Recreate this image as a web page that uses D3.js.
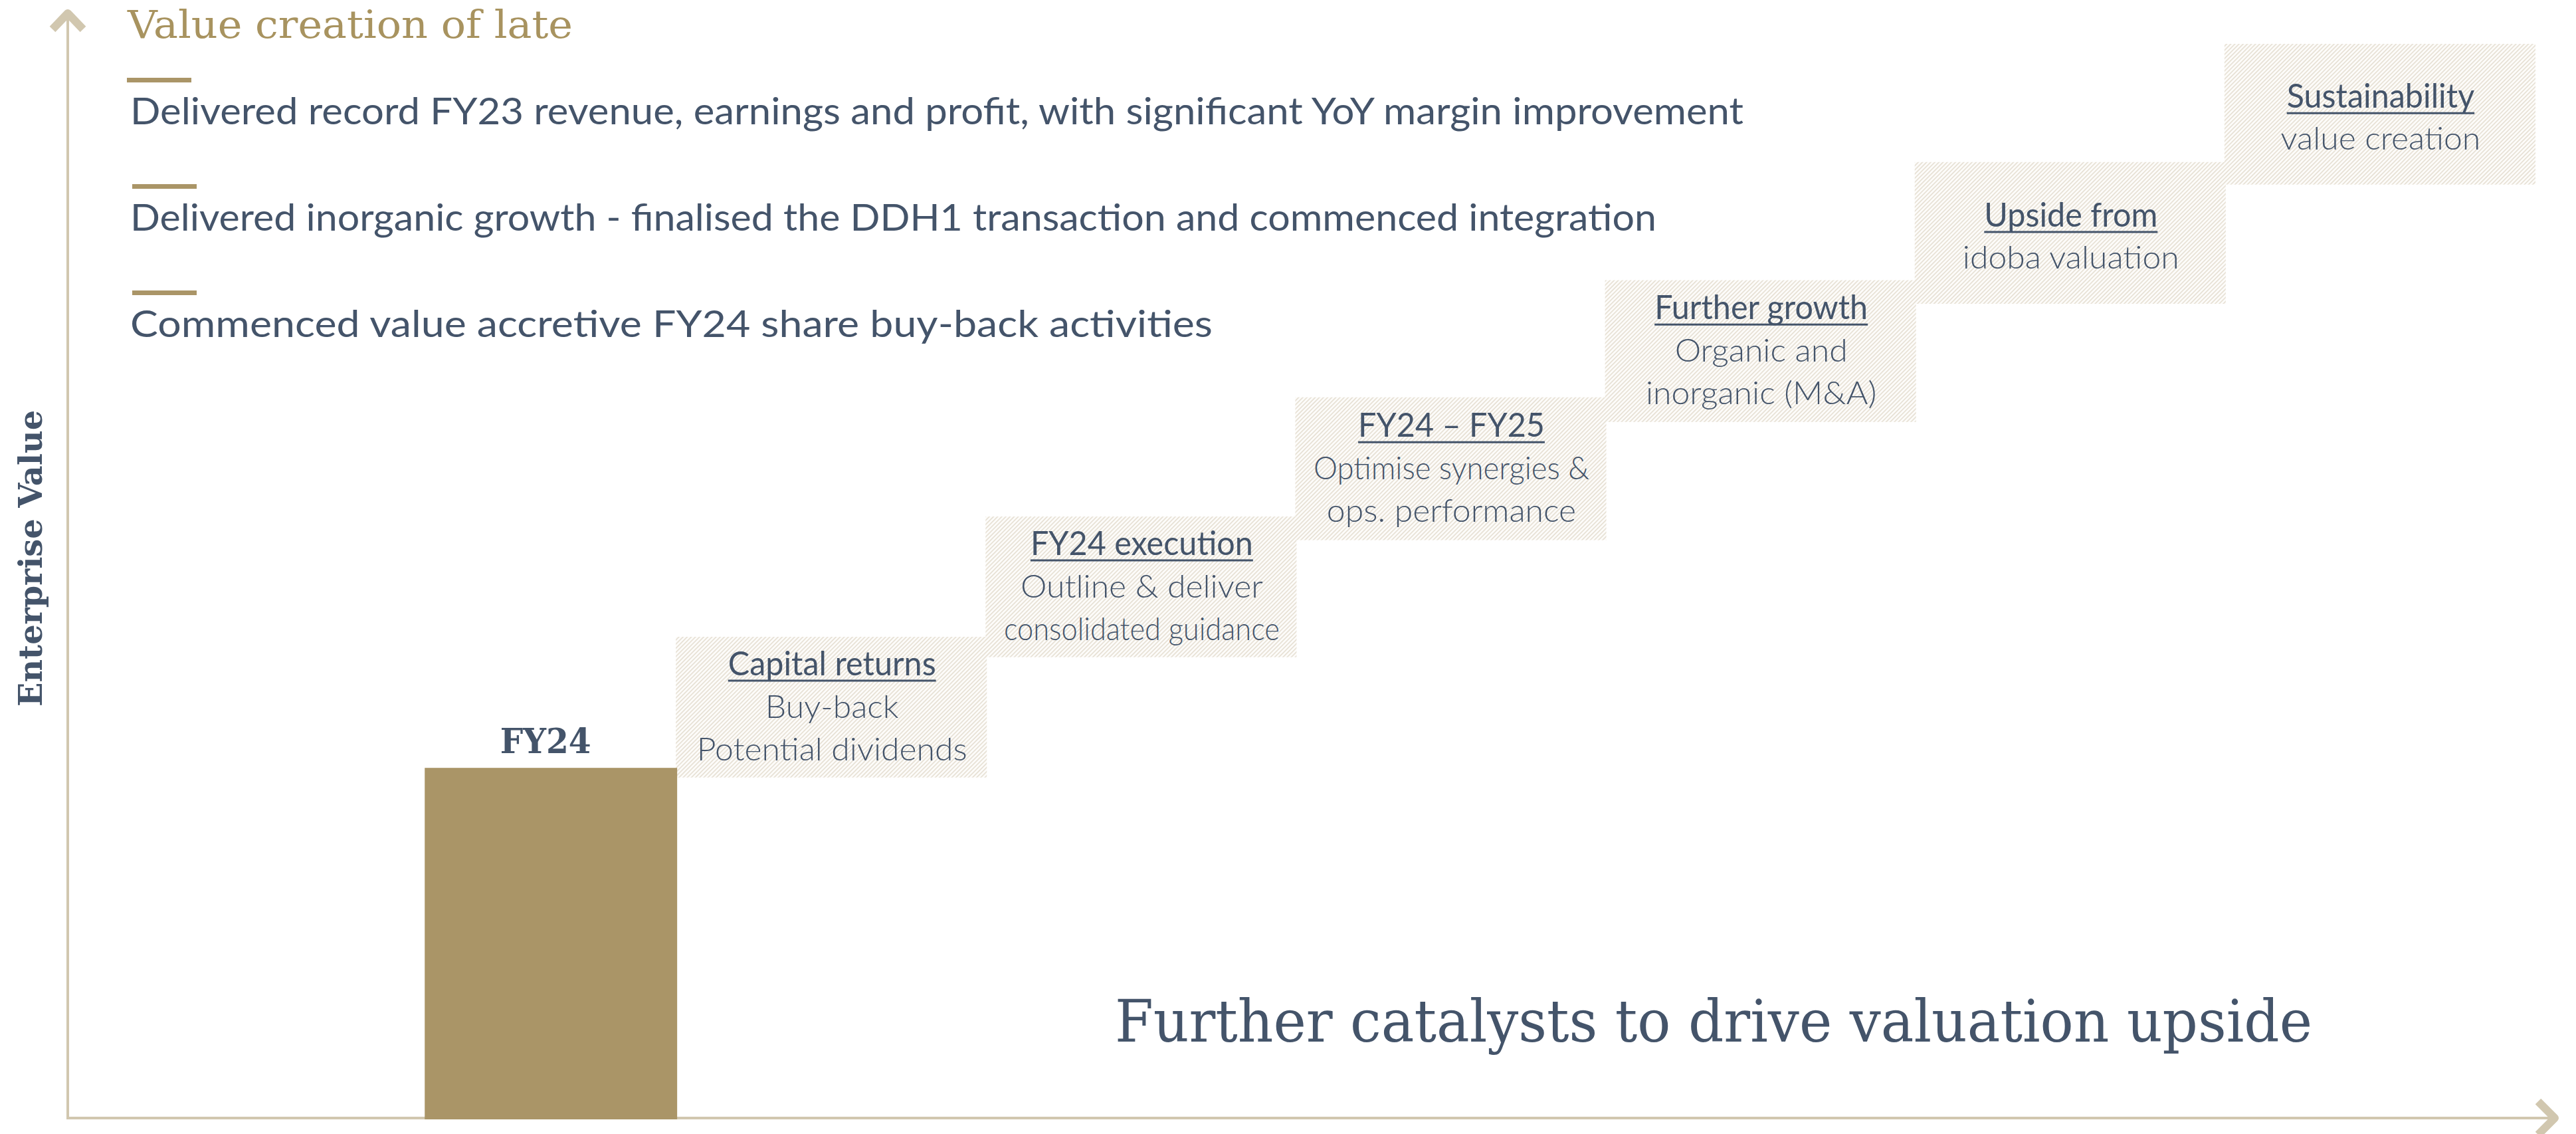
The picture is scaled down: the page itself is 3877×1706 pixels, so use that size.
<!DOCTYPE html>
<html>
<head>
<meta charset="utf-8">
<script src="https://cdn.jsdelivr.net/npm/d3@7"></script>
<style>
  html, body { margin: 0; padding: 0; background: #ffffff; }
  svg { display: block; }
</style>
</head>
<body>
<script>
// ---------------- DATA ----------------
const categories = ["FY24", "Capital returns", "FY24 execution", "FY24 – FY25", "Further growth", "Upside from", "Sustainability"];
const barLabel = "FY24";
const barValue = 32.6;                                   // enterprise value index of the FY24 bar
const stepLow  = [31.7, 42.9, 53.8, 64.8, 75.8, 86.9];   // bottom of each catalyst step
const stepHigh = [44.8, 56.0, 67.1, 78.0, 89.0, 100.0];  // top of each catalyst step
const stepHeadings = ["Capital returns", "FY24 execution", "FY24 – FY25", "Further growth", "Upside from", "Sustainability"];
const stepDetails = [
  ["Buy-back", "Potential dividends"],
  ["Outline & deliver", "consolidated guidance"],
  ["Optimise synergies &", "ops. performance"],
  ["Organic and", "inorganic (M&A)"],
  ["idoba valuation"],
  ["value creation"]
];
const titleText = "Value creation of late";
const highlights = [
  "Delivered record FY23 revenue, earnings and profit, with significant YoY margin improvement",
  "Delivered inorganic growth - finalised the DDH1 transaction and commenced integration",
  "Commenced value accretive FY24 share buy-back activities"
];
const yAxisLabel = "Enterprise Value";
const footerText = "Further catalysts to drive valuation upside";

// ---------------- LAYOUT / STYLE ----------------
const W = 3877, H = 1706;
const NAVY = "#44546A", GOLD = "#AA9567", AXIS = "#D1C7AF";
const SANS = "Lato, 'Open Sans', sans-serif";
const SLAB = "'DejaVu Serif', serif";

const svg = d3.select("body").append("svg").attr("width", W).attr("height", H);

const defs = svg.append("defs");
const pat = defs.append("pattern").attr("id", "hatch")
  .attr("patternUnits", "userSpaceOnUse")
  .attr("width", 4.4).attr("height", 4.4)
  .attr("patternTransform", "rotate(45)");
pat.append("rect").attr("width", 4.4).attr("height", 4.4).attr("fill", "#FDFCFA");
pat.append("rect").attr("width", 1.7).attr("height", 4.4).attr("fill", "#E7E1D5");

const x = d3.scaleBand().domain(categories).range([553, 3816]).paddingInner(0).paddingOuter(0);
const y = d3.scaleLinear().domain([0, 100]).range([1682, 66]);

// ---------------- AXES ----------------
const axisG = svg.append("g").attr("class", "axes");
axisG.append("line").attr("x1", 102).attr("x2", 102).attr("y1", 18).attr("y2", y(0) + 2)
  .attr("stroke", AXIS).attr("stroke-width", 4);
axisG.append("line").attr("x1", 100).attr("x2", 3844).attr("y1", y(0)).attr("y2", y(0))
  .attr("stroke", AXIS).attr("stroke-width", 4);
axisG.append("path").attr("d", "M79,44 L102,20 L125,44")
  .attr("fill", "none").attr("stroke", AXIS).attr("stroke-width", 12)
  .attr("stroke-linejoin", "round");
axisG.append("path").attr("d", `M3820,${y(0) - 25} L3845,${y(0)} L3820,${y(0) + 25}`)
  .attr("fill", "none").attr("stroke", AXIS).attr("stroke-width", 12)
  .attr("stroke-linejoin", "round");

// ---------------- STEPS ----------------
const steps = stepHeadings.map((h, i) => ({
  cat: categories[i + 1], heading: h, details: stepDetails[i], lo: stepLow[i], hi: stepHigh[i]
}));

svg.append("g").selectAll("rect").data(steps).join("rect")
  .attr("x", d => x(d.cat) - 2)
  .attr("width", x.bandwidth() + 2)
  .attr("y", d => y(d.hi))
  .attr("height", d => y(d.lo) - y(d.hi))
  .attr("fill", "url(#hatch)");

// ---------------- FY24 BAR ----------------
const barW = x.bandwidth() * 0.815;
svg.append("rect")
  .attr("x", x(barLabel) + x.bandwidth() - barW)
  .attr("width", barW)
  .attr("y", y(barValue))
  .attr("height", y(0) - y(barValue) + 2)
  .attr("fill", GOLD);

svg.append("text")
  .attr("x", x(barLabel) + x.bandwidth() - barW / 2 - 8)
  .attr("y", y(barValue) - 22)
  .attr("text-anchor", "middle")
  .attr("font-family", SLAB).attr("font-weight", "bold")
  .attr("font-size", 52).attr("fill", NAVY)
  .attr("textLength", 137).attr("lengthAdjust", "spacingAndGlyphs")
  .text(barLabel);

// ---------------- STEP TEXT ----------------
const SQUEEZE_H = 0.97, SQUEEZE_B = 1.04, MAX_BODY_W = 415;
steps.forEach(d => {
  const cx = x(d.cat) + x.bandwidth() / 2;
  const mid = (y(d.hi) + y(d.lo)) / 2;
  const lines = [d.heading].concat(d.details);
  const n = lines.length;
  const LINE = n === 2 ? 63 : 64;
  const c = n === 2 ? 22 : 16;
  lines.forEach((t, j) => {
    const by = mid + (j - (n - 1) / 2) * LINE + c;
    const g = svg.append("g");
    const tx = g.append("text")
      .attr("text-anchor", "middle")
      .attr("font-family", SANS)
      .attr("font-weight", j === 0 ? 400 : 300)
      .attr("font-size", j === 0 ? 50 : 48)
      .attr("fill", NAVY)
      .text(t);
    const w = tx.node().getComputedTextLength();
    let k = j === 0 ? SQUEEZE_H : SQUEEZE_B;
    if (j > 0 && w * k > MAX_BODY_W) k = MAX_BODY_W / w;
    g.attr("transform", `translate(${cx},${by}) scale(${k},1)`);
    if (j === 0) {
      g.append("line").attr("x1", -w / 2).attr("x2", w / 2).attr("y1", 8).attr("y2", 8)
        .attr("stroke", NAVY).attr("stroke-width", 3);
    }
  });
});

// ---------------- HEADER ----------------
svg.append("text")
  .attr("x", 192).attr("y", 57)
  .attr("font-family", SLAB).attr("font-size", 58).attr("fill", "#A8935F")
  .attr("textLength", 670).attr("lengthAdjust", "spacingAndGlyphs")
  .text(titleText);

const bulletWidths = [2428, 2297, 1629];
const hl = svg.append("g");
highlights.forEach((t, i) => {
  const base = 187 + i * 160;
  hl.append("rect").attr("x", i === 0 ? 191 : 199).attr("width", 97)
    .attr("y", base - 70).attr("height", 7).attr("fill", GOLD);
  hl.append("text").attr("x", 196).attr("y", base)
    .attr("font-family", SANS).attr("font-weight", 400).attr("font-size", 56)
    .attr("fill", NAVY)
    .attr("textLength", bulletWidths[i]).attr("lengthAdjust", "spacingAndGlyphs")
    .text(t);
});

// ---------------- Y LABEL ----------------
svg.append("text")
  .attr("transform", "translate(63,840) rotate(-90)")
  .attr("text-anchor", "middle")
  .attr("font-family", SLAB).attr("font-weight", "bold")
  .attr("font-size", 49).attr("fill", NAVY)
  .attr("textLength", 446).attr("lengthAdjust", "spacingAndGlyphs")
  .text(yAxisLabel);

// ---------------- FOOTER ----------------
svg.append("text")
  .attr("x", 1678).attr("y", 1567)
  .attr("font-family", SLAB).attr("font-weight", 300)
  .attr("font-size", 88).attr("fill", NAVY)
  .attr("textLength", 1802).attr("lengthAdjust", "spacingAndGlyphs")
  .text(footerText);
</script>
</body>
</html>
